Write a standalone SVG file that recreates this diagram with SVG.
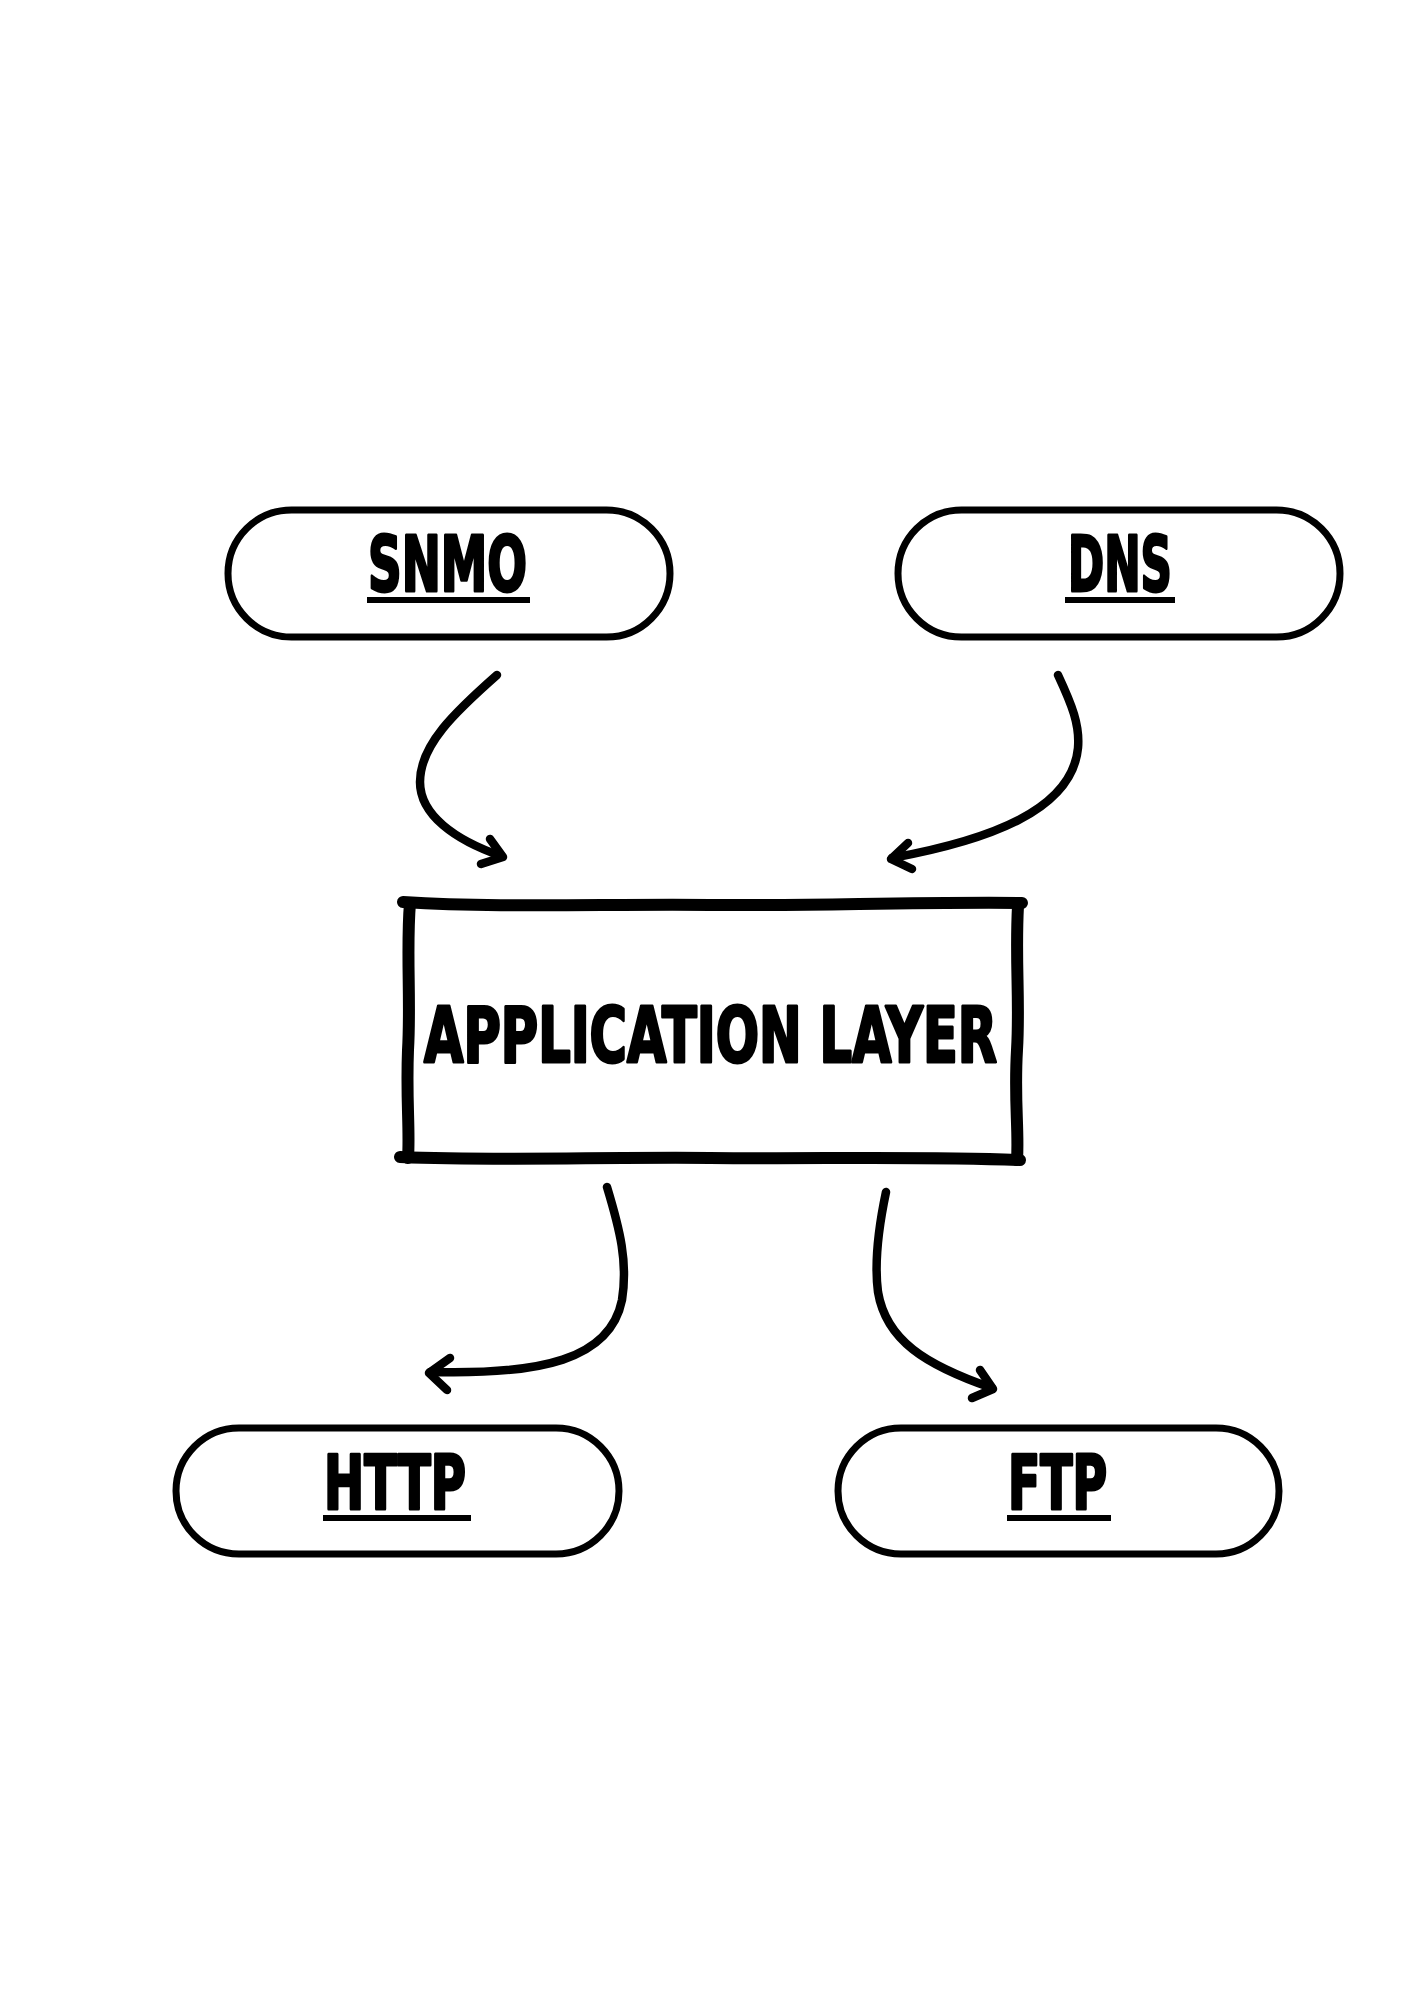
<svg xmlns="http://www.w3.org/2000/svg" width="1414" height="2000" viewBox="0 0 1414 2000">
<style>
.pill{fill:#fff;stroke:#000;stroke-width:7}
.lbl{font-family:"Liberation Sans Narrow","DejaVu Sans Condensed","Liberation Sans",sans-serif;font-weight:bold;font-size:76px;fill:#000;stroke:#000;stroke-width:3;stroke-linejoin:round}
.ul{fill:#000}
.edge{fill:none;stroke:#000;stroke-width:8.5;stroke-linecap:round;stroke-linejoin:round}
.hand{fill:none;stroke:#000;stroke-width:12;stroke-linecap:round;stroke-linejoin:round}
</style>
<rect width="1414" height="2000" fill="#fff"/>
<g id="snmo">
<rect class="pill" x="228" y="510" width="442" height="127" rx="63.5"/>
<text class="lbl" x="368" y="591" textLength="159" lengthAdjust="spacingAndGlyphs">SNMO</text>
<rect class="ul" x="367" y="597" width="163" height="6"/>
</g>
<g id="dns">
<rect class="pill" x="898" y="510" width="442" height="127" rx="63.5"/>
<text class="lbl" x="1068" y="591" textLength="104" lengthAdjust="spacingAndGlyphs">DNS</text>
<rect class="ul" x="1065" y="597" width="110" height="6"/>
</g>
<g id="application-layer">
<rect x="409" y="904" width="608" height="254" fill="#fff"/>
<path class="hand" d="M403,902 C500,908 600,904 710,905 C820,906 900,902 1022,903"/>
<path class="hand" d="M1018,906 C1015,960 1020,1000 1017,1050 C1014,1100 1019,1130 1017,1160"/>
<path class="hand" d="M400,1157 C500,1161 600,1157 710,1158 C820,1159 920,1156 1020,1160"/>
<path class="hand" d="M410,903 C406,950 411,1000 408,1050 C406,1100 410,1130 408,1158"/>
<text class="lbl" x="424" y="1062" textLength="573" lengthAdjust="spacingAndGlyphs">APPLICATION LAYER</text>
</g>
<g id="http">
<rect class="pill" x="176" y="1428" width="443" height="126" rx="63"/>
<text class="lbl" x="324" y="1509" textLength="142" lengthAdjust="spacingAndGlyphs" style="font-size:74px">HTTP</text>
<rect class="ul" x="323" y="1515" width="148" height="6"/>
</g>
<g id="ftp">
<rect class="pill" x="838" y="1428" width="441" height="126" rx="63"/>
<text class="lbl" x="1008" y="1509" textLength="99" lengthAdjust="spacingAndGlyphs" style="font-size:74px">FTP</text>
<rect class="ul" x="1007" y="1515" width="104" height="6"/>
</g>
<g id="connectors">
<path class="edge" d="M497,675 C455,712 420,745 420,782 C420,815 455,840 501,856"/>
<path class="edge" d="M490,839 L503,857 L481,864"/>
<path class="edge" d="M1058,675 C1072,705 1080,725 1078,748 C1072,810 990,840 892,858"/>
<path class="edge" d="M908,843 L891,859 L912,869"/>
<path class="edge" d="M607,1187 C620,1230 628,1262 622,1300 C610,1360 540,1375 430,1372"/>
<path class="edge" d="M450,1358 L429,1373 L447,1390"/>
<path class="edge" d="M886,1192 C878,1230 874,1262 878,1292 C886,1340 925,1365 992,1388"/>
<path class="edge" d="M980,1370 L993,1389 L972,1398"/>
</g>
</svg>
